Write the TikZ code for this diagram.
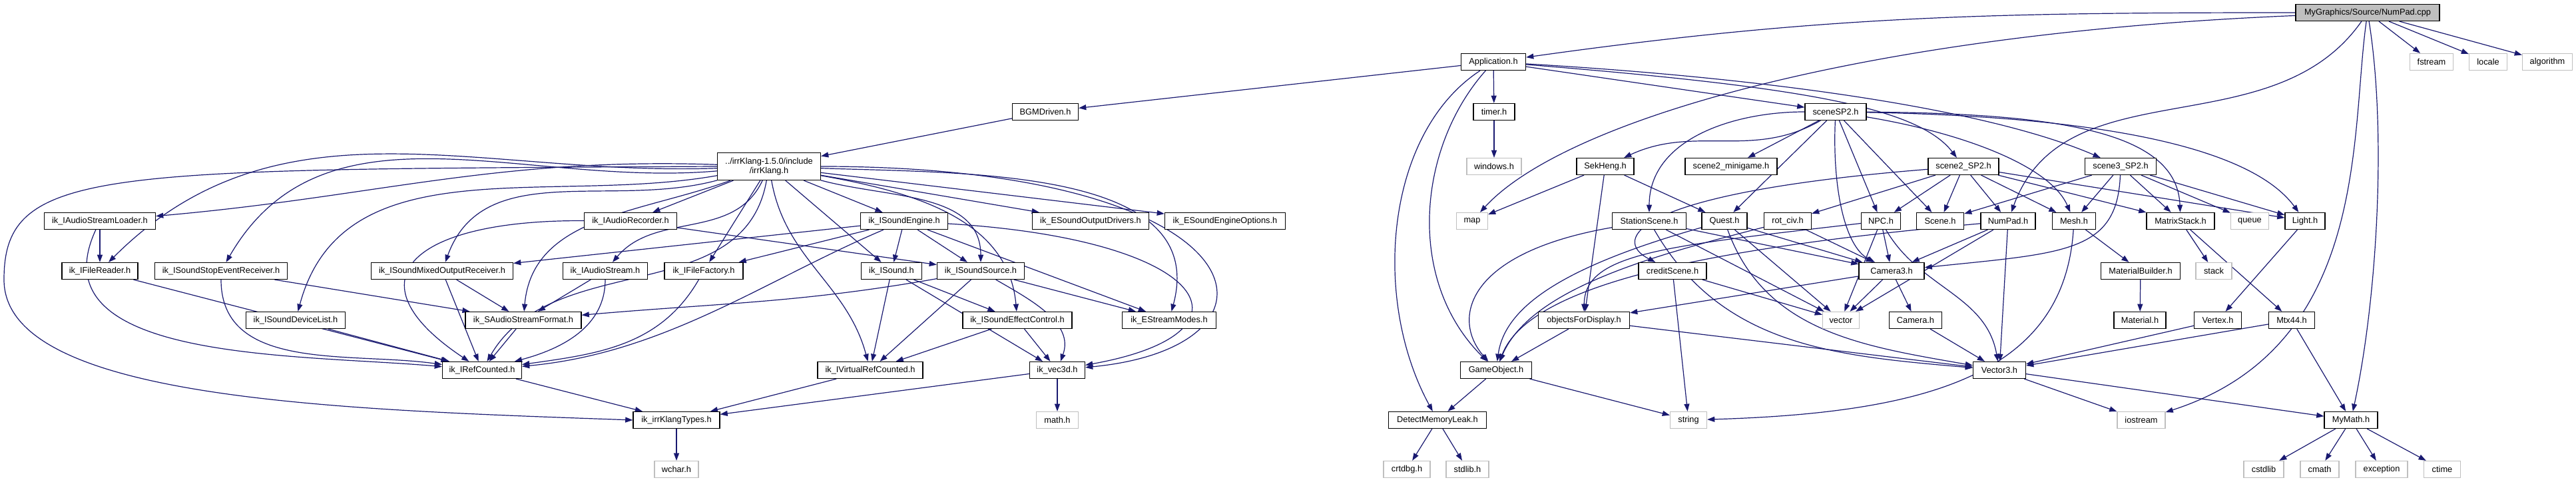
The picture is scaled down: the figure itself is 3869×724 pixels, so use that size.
\documentclass[tikz,border=0pt]{standalone}
\usepackage{fontspec}
\setmainfont{Liberation Sans}
\usepackage{tikz}
\usetikzlibrary{arrows.meta}
\definecolor{edgeblue}{HTML}{191970}
\definecolor{sysgray}{HTML}{BFBFBF}
\pgfdeclarelayer{edges}
\pgfsetlayers{edges,main}
\tikzset{
  hdr/.style={draw=black, line width=0.3pt, fill=white, minimum height=6.25pt, inner sep=0pt, font=\fontsize{3.2}{3.6}\selectfont},
  sys/.style={hdr, draw=sysgray},
  wd/.style={minimum width=#1*0.25pt},
  dep/.style={draw=edgeblue, line width=0.3pt, -{Triangle[length=2.8pt,width=2pt]}},
}
\begin{document}
\begin{tikzpicture}[x=0.25pt, y=-0.25pt]
    \useasboundingbox (0,0) rectangle (3869,724);

    % rank 0 and 1
    \node[hdr, fill=sysgray, wd=216] (npcpp) at (3556,19) {MyGraphics/Source/NumPad.cpp};
    \node[hdr, wd=97] (app) at (2243,93) {Application.h};
    \node[sys, wd=65] (fstream) at (3652,93) {fstream};
    \node[sys, wd=57] (locale) at (3737,93) {locale};
    \node[sys, wd=75] (algo) at (3826,93) {algorithm};

    % rank 2 and 3
    \node[hdr, wd=99] (bgm) at (1570,168) {BGMDriven.h};
    \node[hdr, wd=62] (timer) at (2244,168) {timer.h};
    \node[hdr, wd=92] (scenesp) at (2757,168) {sceneSP2.h};
    \node[hdr, wd=155, minimum height=10.25pt, align=center] (irrk) at (1155,250) {../irrKlang-1.5.0/include\\/irrKlang.h};
    \node[sys, wd=82] (windows) at (2244,250) {windows.h};
    \node[hdr, wd=86] (sekheng) at (2411,250) {SekHeng.h};
    \node[hdr, wd=138] (minigame) at (2600,250) {scene2\_minigame.h};
    \node[hdr, wd=106] (scenetwo) at (2949,250) {scene2\_SP2.h};
    \node[hdr, wd=107] (scenethree) at (3185,250) {scene3\_SP2.h};

    % rank 4
    \node[hdr, wd=167] (streamldr) at (150,332) {ik\_IAudioStreamLoader.h};
    \node[hdr, wd=139] (recorder) at (947,332) {ik\_IAudioRecorder.h};
    \node[hdr, wd=131] (engine) at (1358,332) {ik\_ISoundEngine.h};
    \node[hdr, wd=175] (outdrivers) at (1638,332) {ik\_ESoundOutputDrivers.h};
    \node[hdr, wd=181] (engopts) at (1840,332) {ik\_ESoundEngineOptions.h};
    \node[sys, wd=47] (map) at (2211,332) {map};
    \node[hdr, wd=111] (station) at (2477,332) {StationScene.h};
    \node[hdr, wd=68] (quest) at (2590,332) {Quest.h};
    \node[hdr, wd=71] (rotciv) at (2685,332) {rot\_civ.h};
    \node[hdr, wd=59] (npc) at (2825,332) {NPC.h};
    \node[hdr, wd=71] (scene) at (2914,332) {Scene.h};
    \node[hdr, wd=82] (numpadh) at (3016,332) {NumPad.h};
    \node[hdr, wd=65] (mesh) at (3115,332) {Mesh.h};
    \node[hdr, wd=102] (mtxstack) at (3275,332) {MatrixStack.h};
    \node[sys, wd=57] (queue) at (3379,332) {queue};
    \node[hdr, wd=60] (light) at (3462,332) {Light.h};

    % rank 5
    \node[hdr, wd=114] (filereader) at (150,407) {ik\_IFileReader.h};
    \node[hdr, wd=199] (stopevt) at (332,407) {ik\_ISoundStopEventReceiver.h};
    \node[hdr, wd=213] (mixedout) at (664,407) {ik\_ISoundMixedOutputReceiver.h};
    \node[hdr, wd=127] (audiostream) at (909,407) {ik\_IAudioStream.h};
    \node[hdr, wd=118] (filefactory) at (1057,407) {ik\_IFileFactory.h};
    \node[hdr, wd=91] (sound) at (1339,407) {ik\_ISound.h};
    \node[hdr, wd=131] (soundsrc) at (1473,407) {ik\_ISoundSource.h};
    \node[hdr, wd=102] (creditscene) at (2512,407) {creditScene.h};
    \node[hdr, wd=98] (camthree) at (2841,407) {Camera3.h};
    \node[hdr, wd=119] (matbuilder) at (3215,407) {MaterialBuilder.h};
    \node[sys, wd=54] (stack) at (3325,407) {stack};

    % rank 6
    \node[hdr, wd=149] (devlist) at (444,481) {ik\_ISoundDeviceList.h};
    \node[hdr, wd=174] (streamfmt) at (786,481) {ik\_SAudioStreamFormat.h};
    \node[hdr, wd=164] (effectctl) at (1528,481) {ik\_ISoundEffectControl.h};
    \node[hdr, wd=141] (streammodes) at (1756,481) {ik\_EStreamModes.h};
    \node[hdr, wd=137] (objdisp) at (2379,481) {objectsForDisplay.h};
    \node[sys, wd=55] (vector) at (2765,481) {vector};
    \node[hdr, wd=79] (camera) at (2877,481) {Camera.h};
    \node[hdr, wd=78] (material) at (3214,481) {Material.h};
    \node[hdr, wd=71] (vertex) at (3331,481) {Vertex.h};
    \node[hdr, wd=69] (mtx) at (3442,481) {Mtx44.h};

    % rank 7 to 9
    \node[hdr, wd=119] (refcounted) at (724,556) {ik\_IRefCounted.h};
    \node[hdr, wd=158] (vrefcounted) at (1307,556) {ik\_IVirtualRefCounted.h};
    \node[hdr, wd=83] (vecthree) at (1588,556) {ik\_vec3d.h};
    \node[hdr, wd=107] (gameobj) at (2247,556) {GameObject.h};
    \node[hdr, wd=79] (vecthreeh) at (3003,556) {Vector3.h};
    \node[hdr, wd=130] (irrtypes) at (1016,631) {ik\_irrKlangTypes.h};
    \node[sys, wd=63] (mathh) at (1588,631) {math.h};
    \node[hdr, wd=147] (memleak) at (2159,631) {DetectMemoryLeak.h};
    \node[sys, wd=55] (string) at (2536,631) {string};
    \node[sys, wd=72] (iostream) at (3216,631) {iostream};
    \node[hdr, wd=80] (mymath) at (3531,631) {MyMath.h};
    \node[sys, wd=66] (wchar) at (1016,705) {wchar.h};
    \node[sys, wd=70] (crtdbg) at (2113,705) {crtdbg.h};
    \node[sys, wd=64] (stdlib) at (2204,705) {stdlib.h};
    \node[sys, wd=60] (cstdlib) at (3400,705) {cstdlib};
    \node[sys, wd=58] (cmath) at (3484,705) {cmath};
    \node[sys, wd=78] (except) at (3577,705) {exception};
    \node[sys, wd=55] (ctime) at (3668,705) {ctime};

    \begin{pgfonlayer}{edges}
    % NumPad.cpp
    \draw[dep] (npcpp) to[out=180, in=8] (app);
    \draw[dep] (npcpp) .. controls (2800,50) and (2350,180) .. (map);
    \draw[dep] (npcpp) to[out=-125, in=70] (numpadh);
    \draw[dep] (npcpp) .. controls (3530,200) and (3560,520) .. (iostream);
    \draw[dep] (npcpp) .. controls (3585,200) and (3570,450) .. (mymath);
    \draw[dep] (npcpp) -- (fstream);
    \draw[dep] (npcpp) -- (locale);
    \draw[dep] (npcpp) -- (algo);

    % Application.h
    \draw[dep] (app) -- (bgm);
    \draw[dep] (app) -- (timer);
    \draw[dep] (app) -- (scenesp);
    \draw[dep] (app) .. controls (2700,130) and (2880,160) .. (scenetwo);
    \draw[dep] (app) .. controls (2700,120) and (3000,170) .. (scenethree);
    \draw[dep] (app) .. controls (2080,200) and (2060,450) .. (memleak);
    \draw[dep] (app) .. controls (2130,220) and (2110,420) .. (gameobj);
    \draw[dep] (timer) -- (windows);
    \draw[dep] (bgm) -- (irrk);

    % irrKlang.h
    \draw[dep] (irrk) to[out=178, in=5] (streamldr);
    \draw[dep] (irrk) to[out=182, in=45] (filereader);
    \draw[dep] (irrk) to[out=185, in=60] (stopevt);
    \draw[dep] (irrk) to[out=190, in=75] (devlist);
    \draw[dep] (irrk) to[out=195, in=70] (mixedout);
    \draw[dep] (irrk) to[out=200, in=85] (streamfmt);
    \draw[dep] (irrk) -- (recorder);
    \draw[dep] (irrk) to[out=-115, in=50] (audiostream);
    \draw[dep] (irrk) -- (filefactory);
    \draw[dep] (irrk) -- (engine);
    \draw[dep] (irrk) -- (sound);
    \draw[dep] (irrk) to[out=-15, in=90] (soundsrc);
    \draw[dep] (irrk) to[out=-10, in=95] (effectctl);
    \draw[dep] (irrk) to[out=-80, in=105] (vrefcounted);
    \draw[dep] (irrk) to[out=-100, in=60] (refcounted);
    \draw[dep] (irrk) to[out=-2, in=75] (streammodes);
    \draw[dep] (irrk) .. controls (1900,250) and (1960,520) .. (vecthree);
    \draw[dep] (irrk) -- (outdrivers);
    \draw[dep] (irrk) -- (engopts);
    \draw[dep] (irrk.west) .. controls (150,255) and (6,250) .. (6,420) .. controls (6,600) and (500,615) .. (irrtypes.west);

    % irrKlang headers
    \draw[dep] (streamldr) -- (filereader);
    \draw[dep] (streamldr) to[out=-115, in=175] (refcounted);
    \draw[dep] (filereader) -- (refcounted);
    \draw[dep] (stopevt) to[out=-90, in=172] (refcounted);
    \draw[dep] (stopevt) -- (streamfmt);
    \draw[dep] (devlist) -- (refcounted);
    \draw[dep] (mixedout) -- (streamfmt);
    \draw[dep] (mixedout) -- (refcounted);
    \draw[dep] (audiostream) -- (streamfmt);
    \draw[dep] (audiostream) to[out=-90, in=15] (refcounted);
    \draw[dep] (recorder) .. controls (620,330) and (520,420) .. (refcounted);
    \draw[dep] (recorder) -- (soundsrc);
    \draw[dep] (streamfmt) -- (refcounted);
    \draw[dep] (filefactory) to[out=-120, in=8] (refcounted);
    \draw[dep] (engine) -- (mixedout);
    \draw[dep] (engine) .. controls (1150,420) and (1000,530) .. (refcounted);
    \draw[dep] (engine) -- (filefactory);
    \draw[dep] (engine) -- (sound);
    \draw[dep] (engine) -- (soundsrc);
    \draw[dep] (engine) -- (streammodes);
    \draw[dep] (engine) .. controls (1820,360) and (1900,500) .. (vecthree);
    \draw[dep] (sound) -- (vrefcounted);
    \draw[dep] (sound) -- (effectctl);
    \draw[dep] (sound) -- (vecthree);
    \draw[dep] (soundsrc) -- (vrefcounted);
    \draw[dep] (soundsrc) to[out=-30, in=70] (vecthree);
    \draw[dep] (soundsrc) -- (streammodes);
    \draw[dep] (soundsrc) to[out=190, in=5] (streamfmt);
    \draw[dep] (effectctl) -- (vrefcounted);
    \draw[dep] (effectctl) -- (vecthree);
    \draw[dep] (vrefcounted) -- (irrtypes);
    \draw[dep] (vecthree) -- (irrtypes);
    \draw[dep] (vecthree) -- (mathh);
    \draw[dep] (refcounted) -- (irrtypes);
    \draw[dep] (irrtypes) -- (wchar);

    % sceneSP2.h
    \draw[dep] (scenesp) to[out=-150, in=25] (sekheng);
    \draw[dep] (scenesp) -- (minigame);
    \draw[dep] (scenesp) to[out=180, in=90] (station);
    \draw[dep] (scenesp) -- (quest);
    \draw[dep] (scenesp) -- (npc);
    \draw[dep] (scenesp) .. controls (2752,280) and (2770,370) .. (camthree);
    \draw[dep] (scenesp) -- (scene);
    \draw[dep] (scenesp) .. controls (2950,200) and (3080,250) .. (mesh);
    \draw[dep] (scenesp) .. controls (3100,170) and (3270,200) .. (mtxstack);
    \draw[dep] (scenesp) .. controls (3150,175) and (3380,220) .. (light);

    % scene2_SP2.h and scene3_SP2.h
    \draw[dep] (scenetwo) .. controls (2450,290) and (2420,360) .. (creditscene);
    \draw[dep] (scenetwo) -- (rotciv);
    \draw[dep] (scenetwo) -- (npc);
    \draw[dep] (scenetwo) -- (scene);
    \draw[dep] (scenetwo) -- (numpadh);
    \draw[dep] (scenetwo) -- (mesh);
    \draw[dep] (scenetwo) -- (mtxstack);
    \draw[dep] (scenetwo) -- (light);
    \draw[dep] (scenethree) -- (scene);
    \draw[dep] (scenethree) -- (mesh);
    \draw[dep] (scenethree) -- (mtxstack);
    \draw[dep] (scenethree) -- (queue);
    \draw[dep] (scenethree) -- (light);
    \draw[dep] (scenethree) .. controls (3180,380) and (3100,380) .. (camthree);

    % game headers
    \draw[dep] (sekheng) -- (map);
    \draw[dep] (sekheng) -- (quest);
    \draw[dep] (sekheng) -- (objdisp);
    \draw[dep] (station) .. controls (2200,380) and (2180,480) .. (gameobj);
    \draw[dep] (station) -- (camthree);
    \draw[dep] (station) -- (vector);
    \draw[dep] (station) to[out=-60, in=175] (vecthreeh);
    \draw[dep] (quest) .. controls (2350,400) and (2260,460) .. (gameobj);
    \draw[dep] (quest) -- (camthree);
    \draw[dep] (quest) -- (vector);
    \draw[dep] (quest) to[out=-70, in=170] (vecthreeh);
    \draw[dep] (rotciv) -- (camthree);
    \draw[dep] (rotciv) .. controls (2500,380) and (2300,430) .. (gameobj);
    \draw[dep] (npc) -- (camthree);
    \draw[dep] (npc) -- (vector);
    \draw[dep] (npc) to[out=-60, in=100] (vecthreeh);
    \draw[dep] (npc) .. controls (2500,370) and (2380,380) .. (objdisp);
    \draw[dep] (numpadh) -- (camthree);
    \draw[dep] (numpadh) -- (vector);
    \draw[dep] (numpadh) -- (vecthreeh);
    \draw[dep] (numpadh) .. controls (2600,370) and (2300,420) .. (gameobj);
    \draw[dep] (creditscene) -- (vector);
    \draw[dep] (creditscene) -- (string);
    \draw[dep] (camthree) -- (objdisp);
    \draw[dep] (camthree) -- (vector);
    \draw[dep] (camthree) -- (camera);
    \draw[dep] (camera) -- (vecthreeh);
    \draw[dep] (objdisp) -- (gameobj);
    \draw[dep] (objdisp) -- (vecthreeh);
    \draw[dep] (gameobj) -- (memleak);
    \draw[dep] (gameobj) -- (string);
    \draw[dep] (memleak) -- (crtdbg);
    \draw[dep] (memleak) -- (stdlib);
    \draw[dep] (mesh) -- (matbuilder);
    \draw[dep] (mesh) .. controls (3100,560) and (2900,620) .. (string);
    \draw[dep] (matbuilder) -- (material);
    \draw[dep] (mtxstack) -- (stack);
    \draw[dep] (mtxstack) -- (mtx);
    \draw[dep] (light) -- (vertex);
    \draw[dep] (vertex) -- (vecthreeh);
    \draw[dep] (mtx) -- (vecthreeh);
    \draw[dep] (mtx) -- (mymath);
    \draw[dep] (vecthreeh) -- (iostream);
    \draw[dep] (vecthreeh) -- (mymath);
    \draw[dep] (mymath) -- (cstdlib);
    \draw[dep] (mymath) -- (cmath);
    \draw[dep] (mymath) -- (except);
    \draw[dep] (mymath) -- (ctime);
    \end{pgfonlayer}
\end{tikzpicture}
\end{document}
